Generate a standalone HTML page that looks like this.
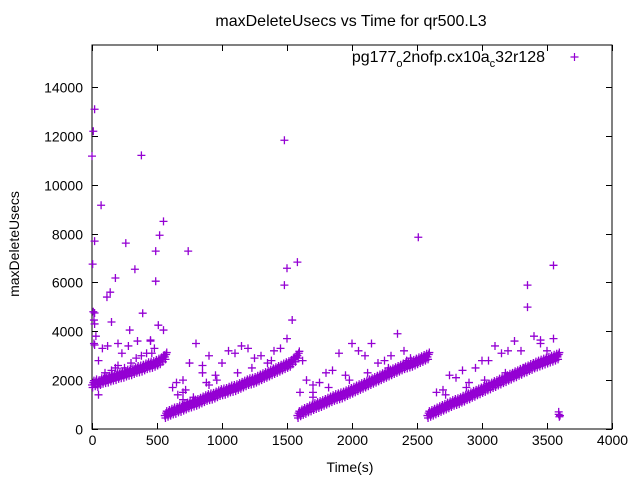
<!DOCTYPE html>
<html><head><meta charset="utf-8"><style>
body{margin:0;background:#fff}
svg{display:block;font-family:"Liberation Sans",sans-serif}
</style></head><body>
<svg id="chart" width="640" height="480" viewBox="0 0 640 480">
<rect width="640" height="480" fill="#fff"/>
<text x="351" y="26" font-size="16" text-anchor="middle">maxDeleteUsecs vs Time for qr500.L3</text>
<g id="axes"></g>
<g id="pts"></g>
<text transform="translate(19,244) rotate(-90)" font-size="14" text-anchor="middle">maxDeleteUsecs</text>
<text x="350" y="472" font-size="14" text-anchor="middle">Time(s)</text>
<g>
<text x="545" y="62" font-size="16" text-anchor="end">pg177<tspan font-size="11" dy="5">o</tspan><tspan dy="-5">2nofp.cx10a</tspan><tspan font-size="11" dy="5">c</tspan><tspan dy="-5">32r128</tspan></text>
<path d="M570.5,57h8M574.5,53v8" stroke="#9400d3" stroke-width="1.2"/>
</g>
</svg>
<script>
const xTicks=[0,500,1000,1500,2000,2500,3000,3500,4000];
const yTicks=[0,2000,4000,6000,8000,10000,12000,14000];
const seg1Start=0, seg1Vals=[1800,1850,1820,1900,1950,1980,2000,2050,2080,2100,2150,2180,2200,2250,2280,2300,2350,2400,2420,2450,2500,2550,2580,2600,2650,2700,2750,2850,2950];
const seg2Start=560, seg2Vals=[550,600,650,700,720,780,800,850,900,950,980,1020,1050,1100,1150,1200,1250,1280,1300,1350,1400,1450,1480,1500,1550,1600,1620,1650,1700,1750,1800,1850,1900,1920,1950,2000,2050,2100,2150,2200,2250,2300,2350,2400,2450,2500,2550,2600,2650,2750,2850,3000];
const seg3Start=1580, seg3Vals=[550,620,680,720,780,820,880,920,960,1000,1050,1100,1150,1200,1250,1280,1320,1350,1400,1450,1500,1550,1600,1650,1700,1750,1800,1850,1900,1950,2000,2050,2100,2150,2200,2250,2300,2350,2400,2450,2500,2550,2580,2620,2650,2700,2750,2800,2850,2900,2950];
const seg4Start=2580, seg4Vals=[550,600,650,700,750,800,850,900,950,1000,1050,1080,1120,1180,1220,1280,1320,1380,1420,1480,1520,1580,1620,1680,1720,1780,1820,1880,1920,1980,2020,2080,2120,2180,2220,2280,2320,2380,2420,2480,2520,2580,2620,2660,2700,2740,2780,2820,2860,2900,2950];
const outlierT=[0,20,10,5,20,20,15,20,70,140,115,180,260,330,380,490,520,550,490,390,150,290,450,510,550,740,1480,1480,1500,1540,1580,2510,3350,3550,3350,3450,
800,850,900,950,1000,1050,1100,1150,1200,1250,1300,1350,1400,1450,1500,650,700,750,700,620,850,900,780,700,
1650,1700,1750,1800,1850,1900,1950,2000,2050,2100,2150,2200,2250,2300,2400,2450,1600,1620,2350,1700,
2650,2700,2750,2800,2850,2900,2950,3000,3050,3100,3150,3200,3250,3300,3400,3450,3500,3550,3580,3590,3595,3600,3590,
30,50,80,100,120,150,180,200,230,250,280,300,350,380,420,450,480,50,10,20,15,
660,720,880,960,1120,1230,1380,1700,1820,1980,2120,2280,2420,2720,2880,3020,3180,3320,3480,200,340,460];
const outlierV=[11170,13090,12190,6750,7690,4750,4460,3440,9160,5600,5400,6180,7610,6540,11200,7280,7930,8500,6050,4740,4380,4050,3640,4250,4050,7280,11820,5890,6580,4460,6830,7850,5890,6700,4990,3640,
3500,2600,3000,2200,2700,3200,3100,3400,3300,2900,3000,2700,3200,3300,3700,1900,2000,2700,1500,1700,2300,1800,1300,1200,
2000,1800,1900,2300,2400,3100,2200,3500,3200,3000,3500,2700,2800,3000,3200,2900,1500,2800,3900,1300,
1500,1600,2200,2100,2400,1900,2500,2800,2800,3400,3100,3200,3600,3200,3800,3500,3200,3700,3000,600,500,550,700,
3800,2800,3300,2300,3400,2400,2500,3500,3100,2500,3400,2700,3600,3000,3100,3600,3300,1400,4800,4300,3500,
1400,1600,1900,2000,2300,2500,2800,1500,1700,2000,2300,2500,2800,1400,1700,2000,2300,2500,2800,2600,2900,3100];
const L=92,R=612,T=45,B=429;
const xs=t=>L+(t/4000)*(R-L);
const ys=v=>B-(v/14000)*(B-87);
const NS='http://www.w3.org/2000/svg';
const axes=document.getElementById('axes'), pts=document.getElementById('pts');
function mk(tag,at,parent){const e=document.createElementNS(NS,tag);for(const k in at)e.setAttribute(k,at[k]);parent.appendChild(e);return e;}
const frame=mk('rect',{x:L,y:T,width:R-L,height:B-T,fill:'none',stroke:'#000','stroke-width':1},axes);


xTicks.forEach(t=>{const x=Math.round(xs(t))+0.5;
 const tk=mk('path',{d:`M${x},${B}v-6M${x},${T}v6`,stroke:'#000'},axes);
 
 
 const lb=mk('text',{x:x,y:B+16,'font-size':14,'text-anchor':'middle'},axes);lb.textContent=t;
 
 });
yTicks.forEach(v=>{const y=Math.round(ys(v))+0.5;
 const tk=mk('path',{d:`M${L},${y}h6M${R},${y}h-6`,stroke:'#000'},axes);
 
 
 const lb=mk('text',{x:L-9,y:y+5,'font-size':14,'text-anchor':'end'},axes);lb.textContent=v;
 
 });
function plus(t,v){const x=xs(t),y=ys(v);
 const p=mk('path',{d:`M${x-4},${y}h8M${x},${y-4}v8`,stroke:'#9400d3','stroke-width':1.3},pts);
 
 }
[[seg1Start,seg1Vals],[seg2Start,seg2Vals],[seg3Start,seg3Vals],[seg4Start,seg4Vals]].forEach(([s,vals])=>{
 vals.forEach((v,i)=>{plus(s+i*20,v);plus(s+i*20+10,v+100);plus(s+i*20+5,v-100);plus(s+i*20+15,v+180);});});
outlierT.forEach((t,i)=>plus(t,outlierV[i]));
</script>
</body></html>
